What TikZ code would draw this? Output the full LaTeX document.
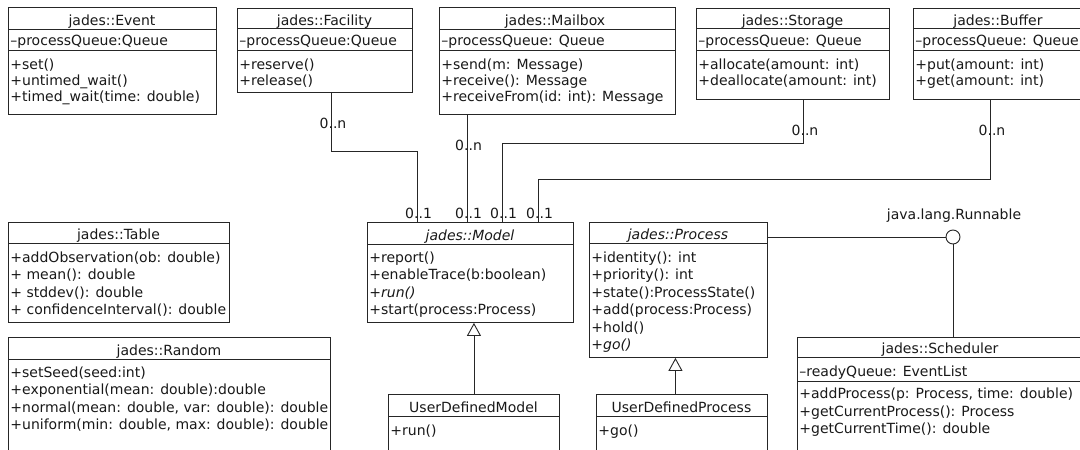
\documentclass[tikz,border=0pt]{standalone}
\usepackage{fontspec}
\setmainfont{DejaVu Sans}[ItalicFont={DejaVu Sans Oblique},BoldFont={DejaVu Sans Bold}]
\usetikzlibrary{arrows.meta,calc}

\begin{document}
\begin{tikzpicture}[x=1pt,y=-1pt,
  umlbox/.style={rectangle, draw=black!85, line width=0.9pt, fill=white, inner sep=0pt, anchor=north west},
  sep/.style={draw=black!85, line width=0.9pt},
  conn/.style={draw=black!85, line width=0.9pt},
  lbl/.style={font=\fontsize{14pt}{16pt}\selectfont, inner sep=0pt, text=black!90},
  ttl/.style={lbl, anchor=base},
  mem/.style={lbl, anchor=base west, xshift=0.7pt},
  mult/.style={lbl, anchor=base west},
  inherit/.style={conn, -{Triangle[open, fill=white, length=13pt, width=14pt]}},
]
\useasboundingbox (0,0) rectangle (1080,450);
\fill[white] (0,0) rectangle (1080,450);
\clip (0,0) rectangle (1080,450);

% ---------- jades::Event ----------
\node[umlbox, minimum width=208pt, minimum height=107pt] (event) at (8,7) {};
\draw[sep] (8,29) -- (216,29) (8,50) -- (216,50);
\node[ttl] (event-t) at (112,25) {jades::Event};
\node[mem] (event-a1) at (9.5,45) {–processQueue:Queue};
\node[mem] (event-m1) at (9.5,69) {+set()};
\node[mem] (event-m2) at (9.5,85) {+untimed\_wait()};
\node[mem] (event-m3) at (9.5,101) {+timed\_wait(time: double)};

% ---------- jades::Facility ----------
\node[umlbox, minimum width=175pt, minimum height=84.5pt] (facility) at (237,7.5) {};
\draw[sep] (237,28.5) -- (412,28.5) (237,50) -- (412,50);
\node[ttl] (facility-t) at (324.5,25) {jades::Facility};
\node[mem] (facility-a1) at (238.5,45) {–processQueue:Queue};
\node[mem] (facility-m1) at (238.5,69) {+reserve()};
\node[mem] (facility-m2) at (238.5,85) {+release()};

% ---------- jades::Mailbox ----------
\node[umlbox, minimum width=236pt, minimum height=107pt] (mailbox) at (439,7) {};
\draw[sep] (439,29) -- (675,29) (439,50) -- (675,50);
\node[ttl] (mailbox-t) at (555,25) {jades::Mailbox};
\node[mem] (mailbox-a1) at (440.5,45) {–processQueue: Queue};
\node[mem] (mailbox-m1) at (440.5,69) {+send(m: Message)};
\node[mem] (mailbox-m2) at (440.5,85) {+receive(): Message};
\node[mem] (mailbox-m3) at (440.5,101) {+receiveFrom(id: int): Message};

% ---------- jades::Storage ----------
\node[umlbox, minimum width=193pt, minimum height=91.5pt] (storage) at (696,7.5) {};
\draw[sep] (696,28.5) -- (889,28.5) (696,50) -- (889,50);
\node[ttl] (storage-t) at (792.5,25) {jades::Storage};
\node[mem] (storage-a1) at (697.5,45) {–processQueue: Queue};
\node[mem] (storage-m1) at (697.5,69) {+allocate(amount: int)};
\node[mem] (storage-m2) at (697.5,85) {+deallocate(amount: int)};

% ---------- jades::Buffer ----------
\node[umlbox, minimum width=170pt, minimum height=91.5pt] (buffer) at (913,7.5) {};
\draw[sep] (913,28.5) -- (1083,28.5) (913,50) -- (1083,50);
\node[ttl] (buffer-t) at (998,25) {jades::Buffer};
\node[mem] (buffer-a1) at (914.5,45) {–processQueue: Queue};
\node[mem] (buffer-m1) at (914.5,69) {+put(amount: int)};
\node[mem] (buffer-m2) at (914.5,85) {+get(amount: int)};

% ---------- jades::Table ----------
\node[umlbox, minimum width=221pt, minimum height=100pt] (table) at (8,222) {};
\draw[sep] (8,243) -- (229,243);
\node[ttl] (table-t) at (118.5,239) {jades::Table};
\node[mem] (table-m1) at (9.5,262) {+addObservation(ob: double)};
\node[mem] (table-m2) at (9.5,279.5) {+ mean(): double};
\node[mem] (table-m3) at (9.5,297) {+ stddev(): double};
\node[mem] (table-m4) at (9.5,314.5) {+ confidenceInterval(): double};

% ---------- jades::Random ----------
\node[umlbox, minimum width=322pt, minimum height=130pt] (random) at (8,337) {};
\draw[sep] (8,359) -- (330,359);
\node[ttl] (random-t) at (169,355) {jades::Random};
\node[mem] (random-m1) at (9.5,377) {+setSeed(seed:int)};
\node[mem] (random-m2) at (9.5,394.5) {+exponential(mean: double):double};
\node[mem] (random-m3) at (9.5,412) {+normal(mean: double, var: double): double};
\node[mem] (random-m4) at (9.5,429.5) {+uniform(min: double, max: double): double};

% ---------- jades::Model ----------
\node[umlbox, minimum width=206pt, minimum height=100pt] (model) at (367,222) {};
\draw[sep] (367,244) -- (573,244);
\node[ttl] (model-t) at (470,240) {\itshape jades::Model};
\node[mem] (model-m1) at (368.5,262) {+report()};
\node[mem] (model-m2) at (368.5,279.5) {+enableTrace(b:boolean)};
\node[mem] (model-m3) at (368.5,297) {\itshape +run()};
\node[mem] (model-m4) at (368.5,314.5) {+start(process:Process)};

% ---------- jades::Process ----------
\node[umlbox, minimum width=178pt, minimum height=135pt] (process) at (589,222) {};
\draw[sep] (589,243) -- (767,243);
\node[ttl] (process-t) at (678,239) {\itshape jades::Process};
\node[mem] (process-m1) at (590.5,262) {+identity(): int};
\node[mem] (process-m2) at (590.5,279.5) {+priority(): int};
\node[mem] (process-m3) at (590.5,297) {+state():ProcessState()};
\node[mem] (process-m4) at (590.5,314.5) {+add(process:Process)};
\node[mem] (process-m5) at (590.5,332) {+hold()};
\node[mem] (process-m6) at (590.5,349.5) {\itshape +go()};

% ---------- UserDefinedModel / UserDefinedProcess ----------
\node[umlbox, minimum width=171pt, minimum height=70pt] (udm) at (388,394) {};
\draw[sep] (388,416) -- (559,416);
\node[ttl] (udm-t) at (473.5,412) {UserDefinedModel};
\node[mem] (udm-m1) at (389.5,435) {+run()};

\node[umlbox, minimum width=171pt, minimum height=70pt] (udp) at (596,394) {};
\draw[sep] (596,416) -- (767,416);
\node[ttl] (udp-t) at (681.5,412) {UserDefinedProcess};
\node[mem] (udp-m1) at (597.5,435) {+go()};

% ---------- jades::Scheduler ----------
\node[umlbox, minimum width=286pt, minimum height=130pt] (scheduler) at (797,337) {};
\draw[sep] (797,357) -- (1083,357) (797,381) -- (1083,381);
\node[ttl] (scheduler-t) at (940,353) {jades::Scheduler};
\node[mem] (scheduler-a1) at (798.5,376) {–readyQueue: EventList};
\node[mem] (scheduler-m1) at (798.5,398) {+addProcess(p: Process, time: double)};
\node[mem] (scheduler-m2) at (798.5,416) {+getCurrentProcess(): Process};
\node[mem] (scheduler-m3) at (798.5,433) {+getCurrentTime(): double};

% ---------- interface java.lang.Runnable ----------
\node[circle, draw=black!85, line width=0.9pt, fill=white, minimum size=14pt, inner sep=0pt] (runnable) at (953,237) {};
\node[ttl] (runnable-t) at (954,219) {java.lang.Runnable};
\draw[conn] (runnable.west -| process.east) -- (runnable.west);
\draw[conn] (runnable.south) -- (runnable.south |- scheduler.north);

% ---------- associations to Model ----------
\coordinate (m1) at (417,222);
\coordinate (m2) at (467,222);
\coordinate (m3) at (502,222);
\coordinate (m4) at (538,222);
\coordinate (fa) at ([xshift=6.5pt]facility.south);
\coordinate (ma) at (m2 |- mailbox.south);
\coordinate (sa) at ([xshift=10.5pt]storage.south);
\coordinate (ba) at ([xshift=-8pt]buffer.south);

\draw[conn] (fa) |- ($(m1)+(0,-71)$) -- (m1);
\draw[conn] (ma) -- (m2);
\draw[conn] (sa) |- ($(m3)+(0,-79)$) -- (m3);
\draw[conn] (ba) |- ($(m4)+(0,-43)$) -- (m4);

\node[mult] (fa-n) at ($(fa)+(-12,36)$) {0..n};
\node[mult] (ma-n) at ($(ma)+(-12,36)$) {0..n};
\node[mult] (sa-n) at ($(sa)+(-12,36)$) {0..n};
\node[mult] (ba-n) at ($(ba)+(-12,36)$) {0..n};
\node[mult] (m1-n) at ($(m1)+(-12,-4)$) {0..1};
\node[mult] (m2-n) at ($(m2)+(-12,-4)$) {0..1};
\node[mult] (m3-n) at ($(m3)+(-12,-4)$) {0..1};
\node[mult] (m4-n) at ($(m4)+(-12,-4)$) {0..1};

% ---------- generalisations ----------
\draw[inherit] (udm.north) -- (udm.north |- model.south);
\coordinate (udp-top) at ([xshift=-6.5pt]udp.north);
\draw[inherit] (udp-top) -- (udp-top |- process.south);
\end{tikzpicture}
\end{document}
